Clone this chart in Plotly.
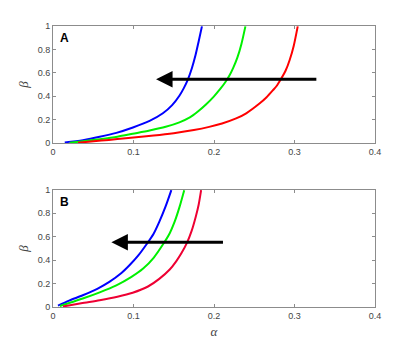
import plotly.graph_objects as go
from plotly.subplots import make_subplots

# Panel A curves (alpha, beta)
a_blue_alpha = [0.0146, 0.0372, 0.058, 0.0787, 0.0993, 0.120, 0.1365, 0.148, 0.157, 0.1625, 0.1675, 0.1725, 0.177, 0.181, 0.185]
a_blue_beta = [0.006, 0.026, 0.054, 0.088, 0.134, 0.190, 0.255, 0.325, 0.405, 0.470, 0.543, 0.640, 0.750, 0.870, 0.997]

a_green_alpha = [0.0207, 0.040, 0.058, 0.080, 0.099, 0.120, 0.140, 0.157, 0.170, 0.180, 0.190, 0.200, 0.208, 0.214, 0.219, 0.224, 0.229, 0.234, 0.239]
a_green_beta = [0.004, 0.019, 0.034, 0.055, 0.080, 0.108, 0.140, 0.178, 0.220, 0.270, 0.330, 0.400, 0.465, 0.520, 0.575, 0.645, 0.730, 0.845, 0.997]

a_red_alpha = [0.031, 0.060, 0.080, 0.100, 0.125, 0.150, 0.175, 0.194, 0.210, 0.2275, 0.240, 0.2565, 0.265, 0.273, 0.278, 0.283, 0.289, 0.294, 0.299, 0.304]
a_red_beta = [0.003, 0.022, 0.035, 0.049, 0.065, 0.085, 0.112, 0.139, 0.168, 0.211, 0.255, 0.338, 0.390, 0.450, 0.490, 0.545, 0.620, 0.710, 0.830, 0.997]

# Panel B curves
b_blue_alpha = [0.0062, 0.020, 0.037, 0.055, 0.070, 0.085, 0.095, 0.106, 0.116, 0.125, 0.132, 0.140, 0.147]
b_blue_beta = [0.012, 0.055, 0.100, 0.155, 0.214, 0.290, 0.356, 0.440, 0.533, 0.625, 0.726, 0.860, 0.997]

b_green_alpha = [0.0085, 0.022, 0.037, 0.058, 0.0787, 0.097, 0.112, 0.125, 0.1365, 0.145, 0.151, 0.157, 0.163]
b_green_beta = [0.008, 0.038, 0.072, 0.125, 0.185, 0.255, 0.328, 0.420, 0.533, 0.630, 0.726, 0.850, 0.997]

b_red_alpha = [0.0124, 0.035, 0.058, 0.080, 0.099, 0.118, 0.132, 0.145, 0.153, 0.160, 0.1665, 0.172, 0.1775, 0.181, 0.184]
b_red_beta = [0.004, 0.032, 0.058, 0.088, 0.122, 0.175, 0.240, 0.320, 0.390, 0.465, 0.550, 0.645, 0.775, 0.875, 0.997]

# arrows: (tail alpha, head alpha, beta)
arrow_a = (0.329, 0.128, 0.545)
arrow_b = (0.213, 0.0725, 0.553)

x_ticks = [0, 0.1, 0.2, 0.3, 0.4]
x_tick_labels = ["0", "0.1", "0.2", "0.3", "0.4"]
y_ticks = [0, 0.2, 0.4, 0.6, 0.8, 1]
y_tick_labels = ["0", "0.2", "0.4", "0.6", "0.8", "1"]

fig = make_subplots(rows=2, cols=1, vertical_spacing=0.166)

panels = [
    (1, [(a_blue_alpha, a_blue_beta, "#0000ff"),
         (a_green_alpha, a_green_beta, "#00f000"),
         (a_red_alpha, a_red_beta, "#ff0000")]),
    (2, [(b_blue_alpha, b_blue_beta, "#0000ff"),
         (b_green_alpha, b_green_beta, "#00f000"),
         (b_red_alpha, b_red_beta, "#ee0033")]),
]

for row, curves in panels:
    for xs, ys, color in curves:
        fig.add_trace(
            go.Scatter(x=xs, y=ys, mode="lines", line=dict(color=color, width=2, shape="spline", smoothing=0.8),
                       showlegend=False, hoverinfo="skip"),
            row=row, col=1
        )

axis_style = dict(
    showline=True, linecolor="#8c8c8c", linewidth=1, mirror="ticks",
    ticks="inside", ticklen=3, tickcolor="#8c8c8c",
    showgrid=False, zeroline=False, automargin=False,
    tickfont=dict(family="Liberation Sans", size=9, color="#444444"),
)

title_font = dict(family="Liberation Serif", size=13, color="#444444")

for row in [1, 2]:
    fig.update_xaxes(range=[0, 0.4], tickvals=x_ticks, ticktext=x_tick_labels, row=row, col=1, **axis_style)
    fig.update_yaxes(range=[0, 1], tickvals=y_ticks, ticktext=y_tick_labels, row=row, col=1, **axis_style)
    fig.update_yaxes(title=dict(text="<i>β</i>", font=title_font, standoff=6), row=row, col=1)

fig.update_xaxes(title=dict(text="<i>α</i>", font=title_font, standoff=7), row=2, col=1)

for (tail, head, beta), xref, yref in [(arrow_a, "x", "y"), (arrow_b, "x2", "y2")]:
    fig.add_annotation(
        x=head, y=beta, ax=tail, ay=beta,
        xref=xref, yref=yref, axref=xref, ayref=yref,
        showarrow=True, arrowhead=2, arrowsize=1.1, arrowwidth=3, arrowcolor="black", text=""
    )

for label, xref, yref in [("A", "x domain", "y domain"), ("B", "x2 domain", "y2 domain")]:
    fig.add_annotation(
        x=0.015, y=0.9, xref=xref, yref=yref, xanchor="left", yanchor="middle",
        text="<b>" + label + "</b>", showarrow=False,
        font=dict(family="Liberation Sans", size=12, color="black")
    )

# the page body adds an 8px offset, so margins are shifted to compensate
fig.update_layout(
    width=415, height=345,
    margin=dict(l=45, r=48, t=18, b=46),
    paper_bgcolor="white", plot_bgcolor="white",
)

fig.write_html("out.html")
